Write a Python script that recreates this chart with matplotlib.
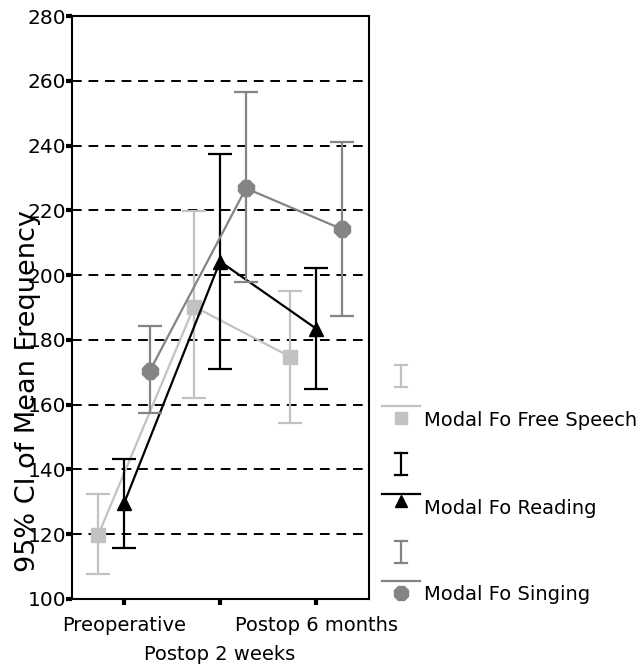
import matplotlib.pyplot as plt
import numpy as np
from matplotlib.lines import Line2D

# data (Hz)
phases = ["Preoperative", "Postop 2 weeks", "Postop 6 months"]
series = ["Modal Fo Free Speech", "Modal Fo Reading", "Modal Fo Singing"]

free_mean = [119.7, 190.3, 174.8]
free_low = [107.7, 162.0, 154.3]
free_high = [132.4, 219.9, 195.2]

read_mean = [129.5, 204.2, 183.5]
read_low = [115.7, 171.0, 164.7]
read_high = [143.2, 237.5, 202.3]

sing_mean = [170.5, 226.8, 214.2]
sing_low = [157.5, 197.8, 187.5]
sing_high = [184.2, 256.5, 241.2]

colors = ["#c2c2c2", "#000000", "#848484"]
markers = ["s", "^", "8"]
msizes = [10, 10, 12]
offsets = [-0.27, 0.0, 0.27]

W, H = 641, 668
fig = plt.figure(figsize=(W / 100, H / 100), dpi=100)
ax = fig.add_axes([72 / W, 1 - 599 / H, 297 / W, 583 / H])

x = np.arange(len(phases))
all_data = [
    (free_mean, free_low, free_high),
    (read_mean, read_low, read_high),
    (sing_mean, sing_low, sing_high),
]

for i, (m, lo, hi) in enumerate(all_data):
    m = np.array(m)
    yerr = [m - np.array(lo), np.array(hi) - m]
    ax.errorbar(
        x + offsets[i],
        m,
        yerr=yerr,
        color=colors[i],
        marker=markers[i],
        markersize=msizes[i],
        linewidth=1.6,
        elinewidth=1.6,
        capsize=8.5,
        capthick=1.6,
        zorder=3 + i,
    )

for y in range(120, 280, 20):
    ax.axhline(y, color="black", linestyle=(0, (5, 3.5)), linewidth=1.4, zorder=1)

ax.set_xlim(-0.542, 2.552)
ax.set_ylim(100, 280)
ax.set_yticks(range(100, 281, 20))
ax.set_xticks(x)
# middle label sits one row lower, as in the original
ax.set_xticklabels([phases[0], "", phases[2]])
ax.annotate(phases[1], xy=(x[1], 0), xycoords=("data", "axes fraction"),
            xytext=(0, -33), textcoords="offset points",
            ha="center", va="top", fontsize=14)

ax.tick_params(axis="y", labelsize=14.5, length=4, width=3, pad=0)
ax.tick_params(axis="x", labelsize=14, length=4, width=3, pad=8)
for s in ax.spines.values():
    s.set_linewidth(1.5)

fig.text(28 / W, 1 - 391 / H, "95% CI of Mean Frequency", rotation=90,
         ha="center", va="center", fontsize=19.5)


# hand-drawn legend to the right of the axes
def px(xp, yp):
    return xp / W, 1 - yp / H


legend_rows = [(365, 387, 406, 418, 421), (453, 475, 494, 501, 508), (541, 563, 581, 593, 595)]
for i, (itop, ibot, ly, my, ty) in enumerate(legend_rows):
    cx = 401
    for xs, ys in [
        ([cx, cx], [itop, ibot]),
        ([cx - 6, cx + 6], [itop, itop]),
        ([cx - 6, cx + 6], [ibot, ibot]),
        ([382, 420], [ly, ly]),
    ]:
        fx, fy = zip(*[px(a, b) for a, b in zip(xs, ys)])
        fig.add_artist(Line2D(fx, fy, color=colors[i], linewidth=1.6))
    mx, myy = px(cx, my)
    fig.add_artist(Line2D([mx], [myy], color=colors[i], marker=markers[i],
                          markersize=msizes[i] - 1, linestyle="none"))
    tx, tyy = px(424, ty)
    fig.text(tx, tyy, series[i], ha="left", va="center", fontsize=14)

fig.savefig("out.png", dpi=100)
